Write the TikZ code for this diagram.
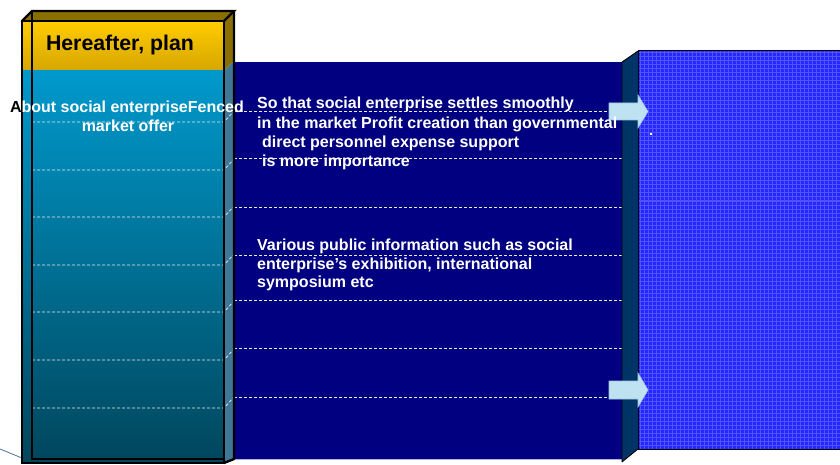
\documentclass[tikz,border=0pt]{standalone}
\usepackage{fontspec}
\setmainfont{Liberation Sans}
\definecolor{navyp}{HTML}{000080}
\definecolor{stripc}{HTML}{003366}
\definecolor{gridfill}{HTML}{2626FF}
\definecolor{gridline}{HTML}{5252FF}
\definecolor{goldtop}{HTML}{FFCC00}
\definecolor{goldbot}{HTML}{D6A600}
\definecolor{olive}{HTML}{8B6E00}
\definecolor{cyantop}{HTML}{0099CC}
\definecolor{cyanbot}{HTML}{00465C}
\definecolor{sidec}{HTML}{3F7896}
\definecolor{arrowc}{HTML}{BEE2F2}
\definecolor{arrowe}{HTML}{9CC6DE}
\tikzset{
  edge3d/.style={draw=black, line width=2.4pt, line join=miter},
  sepline/.style={draw=white!85!gray, line width=0.7pt, dash pattern=on 3pt off 2pt},
  wtext/.style={text=white, font=\fontsize{16}{19.5}\selectfont\bfseries, inner sep=0pt},
  blockarrow/.style={fill=arrowc, draw=arrowe, line width=0.6pt},
}
\begin{document}
\begin{tikzpicture}[x=1pt,y=-1pt]
\useasboundingbox[fill=white] (0,0) rectangle (840,465);

% navy panel
\fill[navyp] (234,62) rectangle (622,459);
\draw[draw=white!70!navyp, line width=1pt] (234,459) -- (622,459);
\foreach \yy in {111,158,207,255,300,348,397}
  \draw[sepline] (234,\yy) -- (622,\yy);

% strip and grid panel
\fill[stripc] (622,62) -- (638,51) -- (638,449) -- (622,462) -- cycle;
\draw[black, line width=0.8pt] (622,462) -- (622,62) -- (638,51);
\draw[black, line width=0.8pt] (638,449) -- (622,462);
\fill[gridfill] (638,51) rectangle (840,449);
\begin{scope}
\clip (638,51) rectangle (840,449);
\foreach \gx in {640,644,...,840} \draw[gridline, line width=1pt] (\gx,51) -- (\gx,449);
\foreach \gy in {53,57,...,449} \draw[gridline, line width=1pt] (638,\gy) -- (840,\gy);
\end{scope}
\draw[black, line width=1pt] (840,51) -- (638,51) -- (638,449) -- (840,449);
\fill[white] (650.3,133.3) rectangle (651.8,134.8);

% block arrows
\draw[blockarrow] (609,103) -- (638,103) -- (638,95) -- (648,111.5) -- (638,128) -- (638,120) -- (609,120) -- cycle;
\draw[blockarrow] (609,381) -- (638,381) -- (638,373) -- (648,390) -- (638,407) -- (638,399) -- (609,399) -- cycle;

% thin line bottom-left
\draw[color=sidec!80!gray, line width=0.8pt] (0,449) -- (22,458);

% left 3D column
\shade[top color=goldtop, bottom color=goldbot] (22,21) rectangle (224,71);
\shade[top color=cyantop, bottom color=cyanbot] (22,71) rectangle (224,463);
\fill[olive] (22,21) -- (32,11) -- (234,11) -- (224,21) -- cycle;
\fill[olive] (224,21) -- (234,11) -- (234,61) -- (224,71) -- cycle;
\fill[sidec] (224,71) -- (234,61) -- (234,459) -- (224,463) -- cycle;
\foreach \yy in {122,170,217,265,312,360,408}
  \draw[sepline] (32,\yy) -- (224,\yy) -- (234,\yy-11);
\draw[black, line width=1.4pt] (32,11) -- (32,459) -- (224,459);
\draw[edge3d] (22,463) -- (22,21) -- (224,21) -- (224,463) -- cycle;
\draw[edge3d] (22,21) -- (32,11) -- (234,11) -- (224,21);
\draw[edge3d] (234,11) -- (234,459) -- (224,463);

% texts
\node[inner sep=0pt, anchor=base, font=\fontsize{21.3}{24}\selectfont\bfseries] (title) at (120,51) {Hereafter, plan};
\begin{scope}
\clip (0,90) rectangle (21,120);
\node[wtext, text=black, anchor=base] (l1shadow) at (127,113) {About social enterpriseFenced};
\end{scope}
\begin{scope}
\clip (21,90) rectangle (260,120);
\node[wtext, anchor=base] (l1) at (127,113) {About social enterpriseFenced};
\end{scope}
\node[wtext, anchor=base] (l2) at (128,132) {market offer};

\node[wtext, anchor=base west] (r1) at (257,109) {So that social enterprise settles smoothly};
\node[wtext, anchor=base west] (r2) at (257,128.5) {in the market Profit creation than governmental};
\node[wtext, anchor=base west] (r3) at (262,148) {direct personnel expense support};
\node[wtext, anchor=base west] (r4) at (262,167) {is more importance};

\node[wtext, anchor=base west] (v1) at (257,250.5) {Various public information such as social};
\node[wtext, anchor=base west] (v2) at (257,269) {enterprise's exhibition, international};
\node[wtext, anchor=base west] (v3) at (257,287) {symposium etc};
\end{tikzpicture}
\end{document}
